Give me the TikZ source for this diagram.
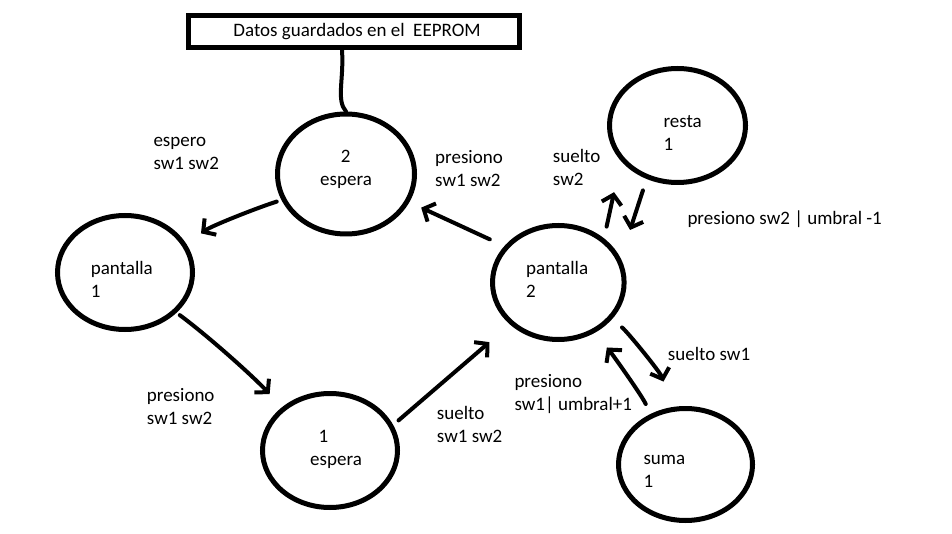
\documentclass[tikz,border=0pt]{standalone}
\usepackage{fontspec}
\setmainfont{Carlito}
\usetikzlibrary{shapes.geometric,arrows.meta}
\begin{document}
\begin{tikzpicture}[x=1pt,y=-1pt,
  st/.style={draw, ellipse, line width=5pt, inner sep=0pt},
  lbl/.style={anchor=north west, inner sep=0pt, yshift=16.1pt, align=left,
    font=\fontsize{19}{23}\selectfont},
  arr/.style={line width=4pt, -{Straight Barb[length=9pt,width=20pt]}, line cap=round, line join=round}]
\useasboundingbox (0,0) rectangle (952,534);
\fill[white] (0,0) rectangle (952,534);
% states
\node[st, minimum width=137pt, minimum height=120pt] (e2) at (346,174) {};
\node[st, minimum width=135pt, minimum height=114pt] (p1) at (125,272.5) {};
\node[st, minimum width=135pt, minimum height=114pt] (e1) at (330,450.5) {};
\node[st, minimum width=131.6pt, minimum height=114pt] (p2) at (558.3,282.5) {};
\node[st, minimum width=136pt, minimum height=114pt] (resta) at (677.5,125.5) {};
\node[st, minimum width=134pt, minimum height=112pt] (suma) at (685.5,464.5) {};
% EEPROM box
\node[draw, line width=5pt, minimum width=331pt, minimum height=32pt, inner sep=0pt,
  font=\fontsize{19}{23}\selectfont] (box) at (354,31.5) {\hspace*{6pt}Datos guardados en el\ \ EEPROM};
% texts
\node[lbl] (t1) at (153.3,146.7) {\strut espero\\sw1 sw2};
\node[lbl] (t2) at (90.7,274) {\strut pantalla\\1};
\node[lbl] (t3) at (320,162.7) {\strut\hspace*{20.7pt}2\\espera};
\node[lbl] (t4) at (435,163.3) {\strut presiono\\sw1 sw2};
\node[lbl] (t5) at (552.7,162.3) {\strut suelto\\sw2};
\node[lbl] (t6) at (663.3,127.3) {\strut resta\\1};
\node[lbl] (t7) at (687.3,224) {\strut presiono sw2 | umbral -1};
\node[lbl] (t8) at (526,274) {\strut pantalla\\2};
\node[lbl] (t9) at (667.7,360.7) {\strut suelto sw1};
\node[lbl] (t10) at (514.3,387.3) {\strut presiono\\sw1| umbral+1};
\node[lbl] (t11) at (643.3,464) {\strut suma\\1};
\node[lbl] (t12) at (146.7,401.7) {\strut presiono\\sw1 sw2};
\node[lbl] (t13) at (310,442.7) {\strut\hspace*{8.3pt}1\\espera};
\node[lbl] (t14) at (436.7,419.3) {\strut suelto\\sw1 sw2};
% connectors
\draw[line width=4pt, line cap=round] ([xshift=-12pt]box.south) .. controls (344,80) and (336,100) .. (e2.north);
\draw[arr, shorten <=5pt, shorten >=18pt] (e2.202) .. controls +(-25,8) and +(25,-18) .. (p1.25);
\draw[arr, shorten <=4pt, shorten >=18pt] (p1.322) .. controls +(30,22) and +(-30,-32) .. (e1.138);
\draw[arr, shorten <=7pt, shorten >=27pt] (e1.22) -- (p2.221);
\draw[arr, shorten <=16pt, shorten >=13pt] (p2.146) -- (e2.336);
\draw[arr, shorten <=12pt, shorten >=32pt] (p2.44) -- (resta.212);
\draw[arr, shorten <=12pt, shorten >=30pt] (resta.240) -- (p2.21);
\draw[arr, shorten <=13pt, shorten >=27pt] (p2.325) .. controls +(15,11) and +(-12,-35) .. (suma.103);
\draw[arr, shorten <=11pt, shorten >=19pt] (suma.125) .. controls +(-8,-18) and +(18,22) .. (p2.306);
\end{tikzpicture}
\end{document}
